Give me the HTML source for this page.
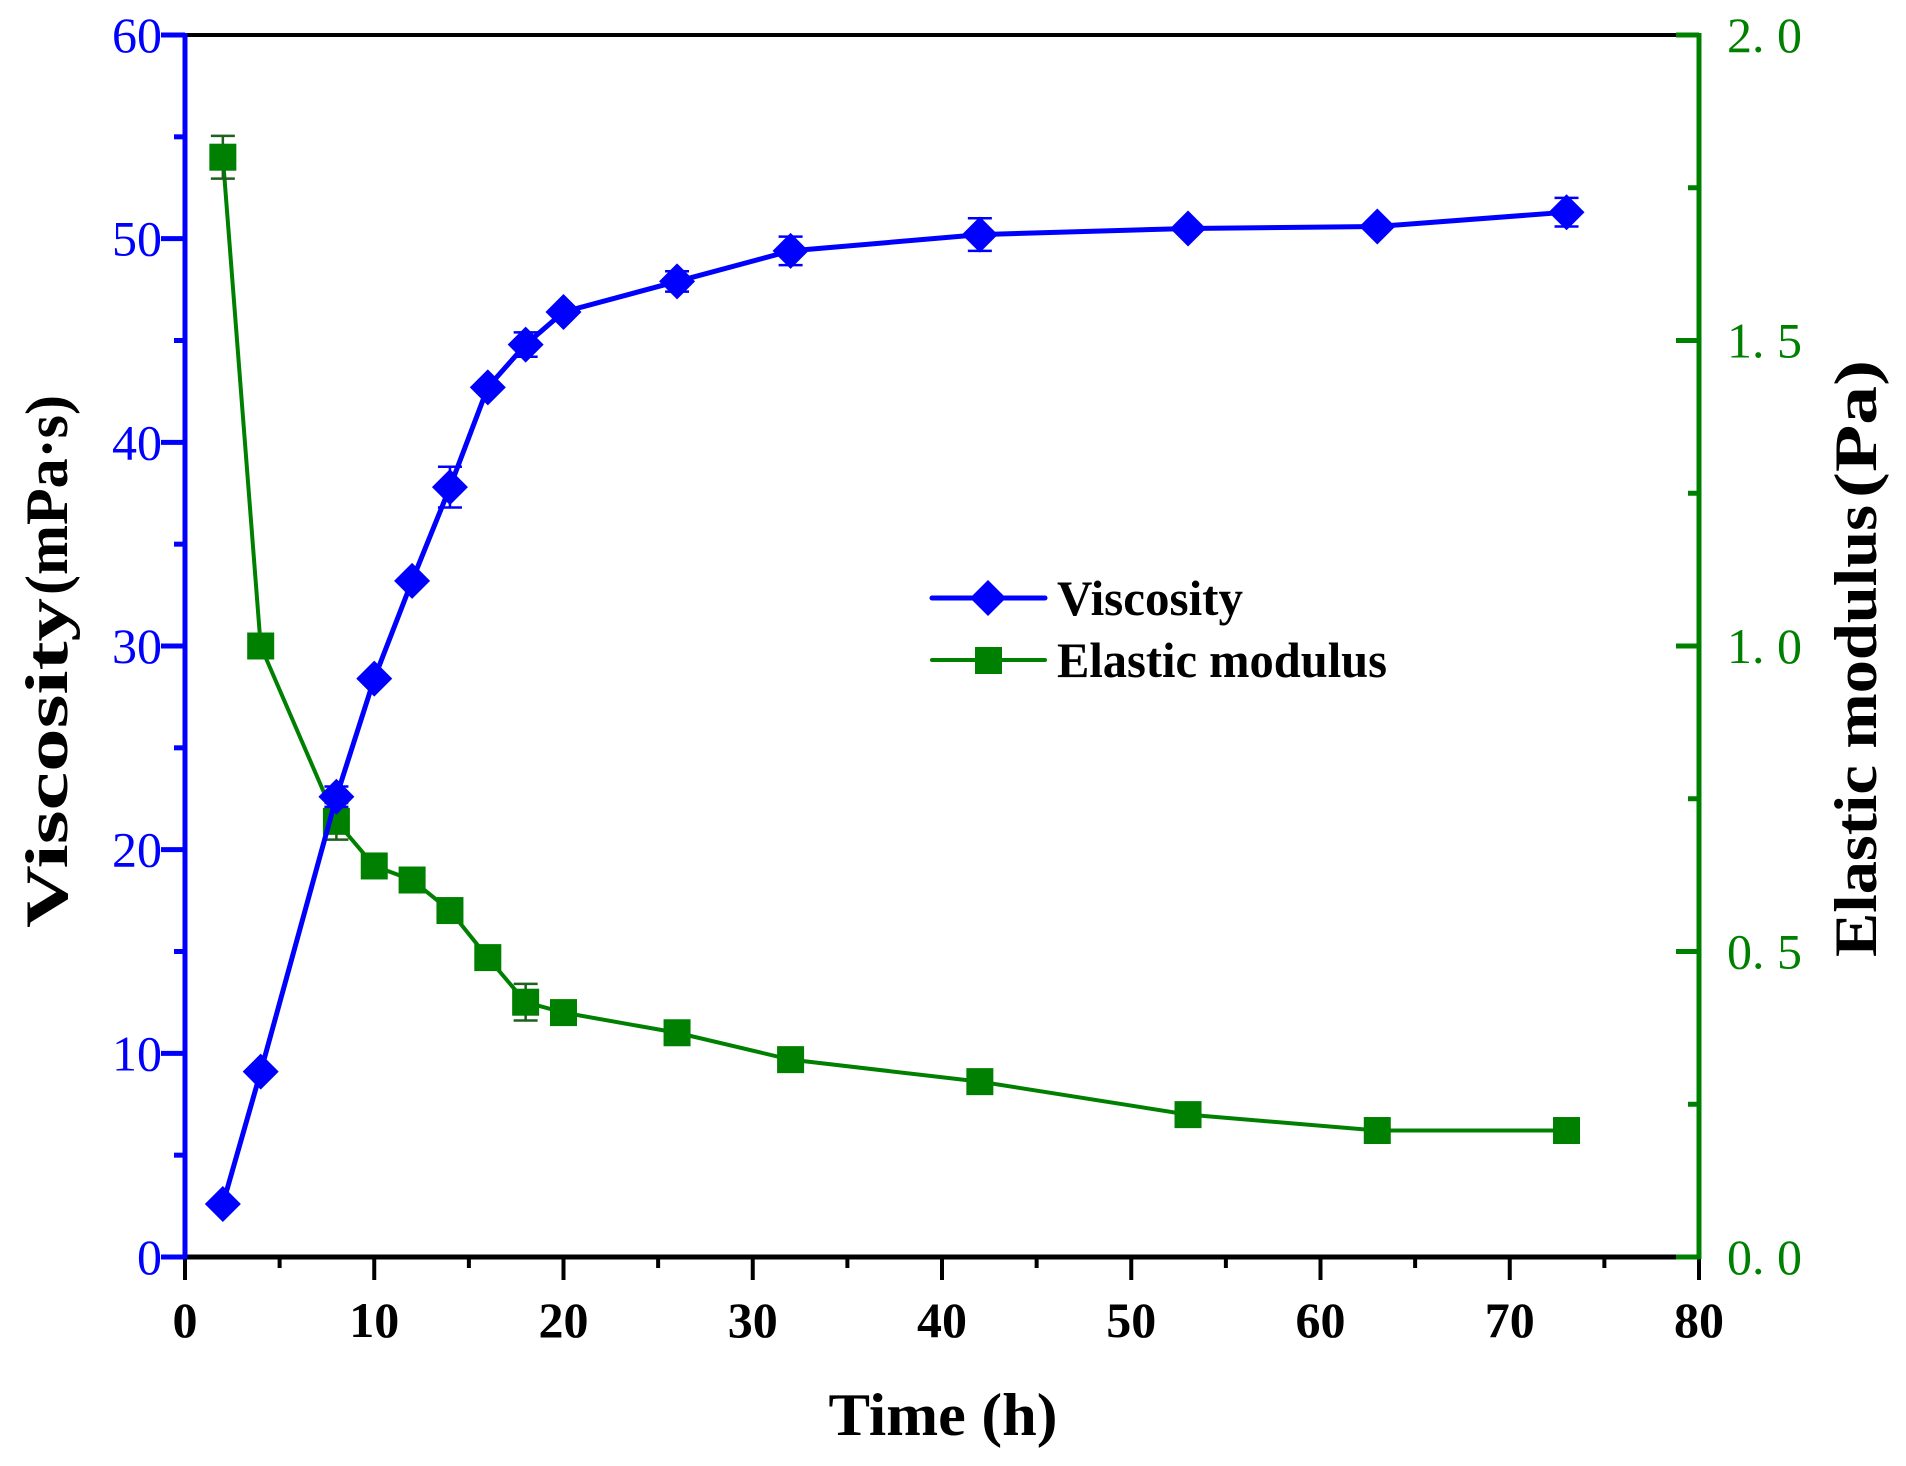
<!DOCTYPE html>
<html><head><meta charset="utf-8"><style>
html,body{margin:0;padding:0;background:#fff;}
svg{display:block;}
text{font-family:"Liberation Serif","Noto Serif CJK SC",serif;}
</style></head><body>
<svg id="s" xmlns="http://www.w3.org/2000/svg" width="1906" height="1466" viewBox="0 0 1906 1466">
<rect width="1906" height="1466" fill="#fff"/>
<g id="g"></g>
<!-- axis titles -->
<text x="943" y="1435" font-size="60" font-weight="bold" text-anchor="middle" textLength="229" lengthAdjust="spacingAndGlyphs">Time (h)</text>
<text transform="translate(67,928) rotate(-90)" font-size="60" font-weight="bold" textLength="330" lengthAdjust="spacingAndGlyphs">Viscosity</text>
<text transform="translate(67,595) rotate(-90)" font-size="60" font-weight="bold" textLength="200" lengthAdjust="spacingAndGlyphs">(mPa·s)</text>
<text transform="translate(1876,957) rotate(-90)" font-size="60" font-weight="bold" textLength="452" lengthAdjust="spacingAndGlyphs">Elastic modulus</text>
<text transform="translate(1876,498) rotate(-90)" font-size="60" font-weight="bold" textLength="138" lengthAdjust="spacingAndGlyphs">(Pa)</text>
<!-- legend -->
<line x1="932" y1="598" x2="1045" y2="598" stroke="#0000ff" stroke-width="5" stroke-linecap="round"/>
<polygon points="988,580 1006,598 988,616 970,598" fill="#0000ff"/>
<line x1="932" y1="660" x2="1045" y2="660" stroke="#008000" stroke-width="4" stroke-linecap="round"/>
<rect x="975" y="647" width="27" height="27" fill="#008000"/>
<text x="1057" y="615" font-size="50" font-weight="bold" textLength="186" lengthAdjust="spacingAndGlyphs">Viscosity</text>
<text x="1057" y="677" font-size="50" font-weight="bold" textLength="330" lengthAdjust="spacingAndGlyphs">Elastic modulus</text>
</svg>
<script>
var L=185,R=1699,T=35,B=1257;
function X(t){return L+t*(R-L)/80;}
function YL(v){return B-v*(B-T)/60;}
function YR(e){return B-e*(B-T)/2;}
var h='';
h+='<line x1="'+L+'" y1="'+T+'" x2="'+R+'" y2="'+T+'" stroke="#000" stroke-width="4"/>';
h+='<line x1="'+L+'" y1="'+B+'" x2="'+R+'" y2="'+B+'" stroke="#000" stroke-width="5"/>';
for(var t=0;t<=80;t+=5){var x=X(t),len=(t%10==0)?23:11;
 h+='<line x1="'+x+'" y1="'+B+'" x2="'+x+'" y2="'+(B+len)+'" stroke="#000" stroke-width="4"/>';
 if(t%10==0)h+='<text x="'+x+'" y="1337" font-size="50" font-weight="bold" text-anchor="middle">'+t+'</text>';}
h+='<line x1="'+L+'" y1="'+(T-2)+'" x2="'+L+'" y2="'+(B+2)+'" stroke="#0000ff" stroke-width="5"/>';
for(var v=0;v<=60;v+=5){var y=YL(v),len=(v%10==0)?24:11;
 h+='<line x1="'+(L-len)+'" y1="'+y+'" x2="'+L+'" y2="'+y+'" stroke="#0000ff" stroke-width="5"/>';
 if(v%10==0)h+='<text x="'+(L-23)+'" y="'+(y+17)+'" font-size="50" fill="#0000ff" text-anchor="end">'+v+'</text>';}
h+='<line x1="'+R+'" y1="'+(T-2)+'" x2="'+R+'" y2="'+(B+2)+'" stroke="#008000" stroke-width="5"/>';
var rl=['0. 0','0. 5','1. 0','1. 5','2. 0'];
for(var i=0;i<=8;i++){var e=i*0.25,y=YR(e),len=(i%2==0)?23:11;
 h+='<line x1="'+(R-len)+'" y1="'+y+'" x2="'+R+'" y2="'+y+'" stroke="#008000" stroke-width="5"/>';
 if(i%2==0)h+='<text x="1727" y="'+(y+17)+'" font-size="50" fill="#008000" textLength="75" lengthAdjust="spacing">'+rl[i/2]+'</text>';}
var ts=[2,4,8,10,12,14,16,18,20,26,32,42,53,63,73];
var vv=[2.6,9.1,22.6,28.4,33.2,37.8,42.7,44.8,46.4,47.9,49.4,50.2,50.5,50.6,51.3];
var ve=[0,0,0.5,0,0,1.0,0,0.6,0,0.5,0.7,0.8,0,0,0.7];
var ee=[1.80,1.00,0.713,0.64,0.617,0.567,0.49,0.417,0.40,0.367,0.323,0.287,0.233,0.207,0.207];
var eer=[0.035,0,0.03,0,0,0,0,0.03,0,0,0,0,0,0,0];
var p=ts.map(function(t,i){return X(t)+','+YR(ee[i]);}).join(' ');
h+='<polyline points="'+p+'" fill="none" stroke="#008000" stroke-width="4"/>';
ts.forEach(function(t,i){var x=X(t),y=YR(ee[i]);
 if(eer[i]){var a=YR(ee[i]+eer[i]),b=YR(ee[i]-eer[i]);
  h+='<path d="M'+x+' '+a+'V'+b+'M'+(x-12)+' '+a+'h24M'+(x-12)+' '+b+'h24" stroke="#1f5f1f" stroke-width="2.5" fill="none"/>';}
 h+='<rect x="'+(x-13.5)+'" y="'+(y-13.5)+'" width="27" height="27" fill="#008000"/>';});
p=ts.map(function(t,i){return X(t)+','+YL(vv[i]);}).join(' ');
h+='<polyline points="'+p+'" fill="none" stroke="#0000ff" stroke-width="5"/>';
ts.forEach(function(t,i){var x=X(t),y=YL(vv[i]);
 if(ve[i]){var a=YL(vv[i]+ve[i]),b=YL(vv[i]-ve[i]);
  h+='<path d="M'+x+' '+a+'V'+b+'M'+(x-12)+' '+a+'h24M'+(x-12)+' '+b+'h24" stroke="#0000ff" stroke-width="2.5" fill="none"/>';}
 h+='<polygon points="'+x+','+(y-18)+' '+(x+18)+','+y+' '+x+','+(y+18)+' '+(x-18)+','+y+'" fill="#0000ff"/>';});
document.getElementById('g').innerHTML=h;
</script>
</body></html>
